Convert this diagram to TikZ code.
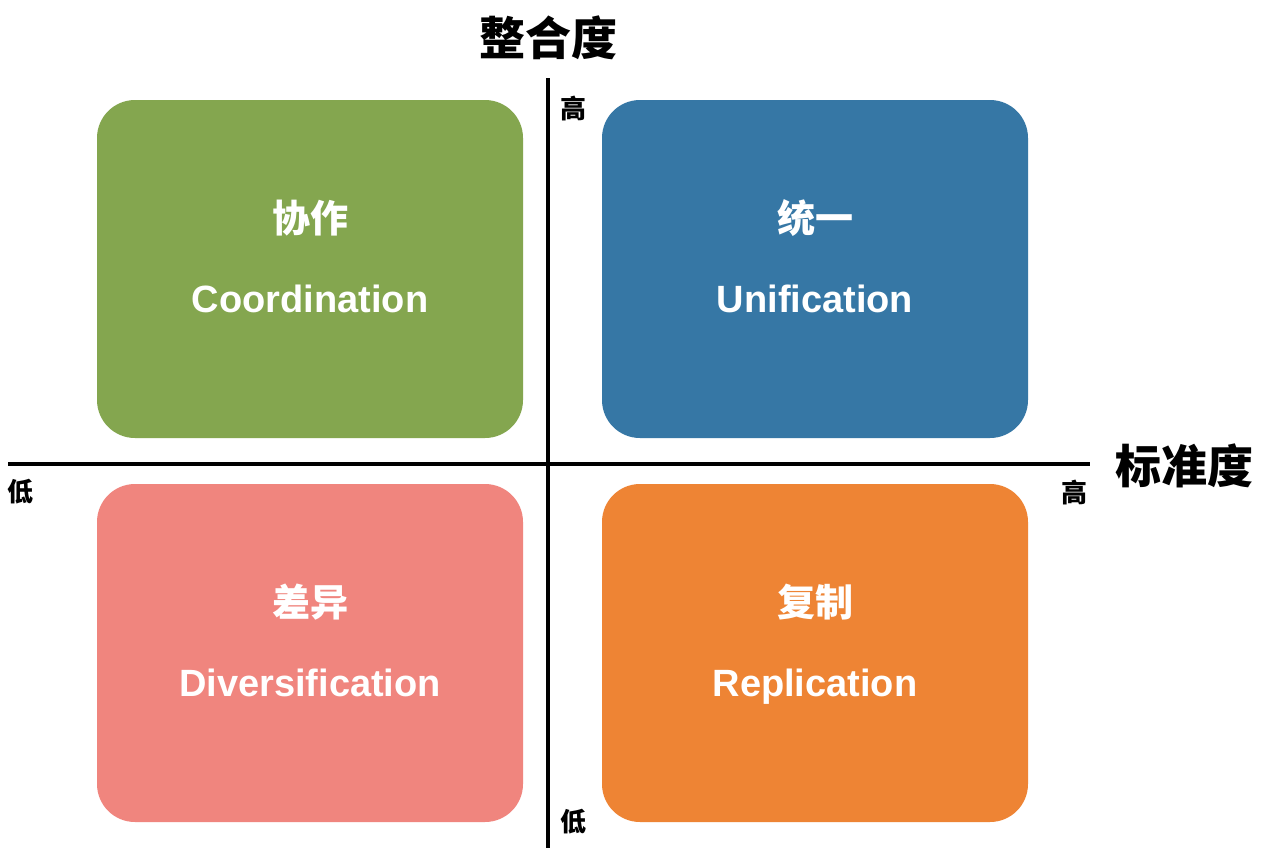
\documentclass[tikz,border=0pt]{standalone}
\usepackage{fontspec}
\setmainfont{Liberation Sans}
\newfontfamily\cjk{Noto Sans CJK SC}
\definecolor{qgreen}{HTML}{84A64F}
\definecolor{qblue}{HTML}{3677A5}
\definecolor{qpink}{HTML}{F0857E}
\definecolor{qorange}{HTML}{EE8434}
\begin{document}
\begin{tikzpicture}[x=1pt,y=-1pt,
  quad/.style={rounded corners=38pt, minimum width=426pt, minimum height=338pt, inner sep=0pt},
  zh/.style={text=white, font=\cjk\bfseries\fontsize{38}{42}\selectfont},
  en/.style={text=white, anchor=base, font=\bfseries\fontsize{38}{43}\selectfont},
  axis/.style={line width=3.8pt, black},
  tick/.style={font=\cjk\bfseries\fontsize{26}{30}\selectfont},
  title/.style={font=\cjk\bfseries\fontsize{46}{52}\selectfont}]
\useasboundingbox (0,0) rectangle (1262,852);
\fill[white] (0,0) rectangle (1262,852);

% four quadrants
\node[quad, fill=qgreen]  (coord) at (310,269) {};
\node[quad, fill=qblue]   (unif)  at (815,269) {};
\node[quad, fill=qpink]   (div)   at (310,653) {};
\node[quad, fill=qorange] (rep)   at (815,653) {};

% labels: Chinese name above, English name on a common baseline
\node[zh] (coordzh) at ([yshift=51pt]coord.center) {协作};
\node[en] (coorden) at ([yshift=-43pt]coord.center) {Coordination};
\node[zh] (unifzh)  at ([yshift=51pt]unif.center) {统一};
\node[en] (unifen)  at ([yshift=-43pt]unif.center) {Unification};
\node[zh] (divzh)   at ([yshift=51pt]div.center) {差异};
\node[en] (diven)   at ([yshift=-43pt]div.center) {Diversification};
\node[zh] (repzh)   at ([yshift=51pt]rep.center) {复制};
\node[en] (repen)   at ([yshift=-43pt]rep.center) {Replication};

% axes
\coordinate (xl) at (8,464);
\coordinate (xr) at (1090,464);
\coordinate (yt) at (548,78);
\coordinate (yb) at (548,848);
\draw[axis] (xl) -- (xr);
\draw[axis] (yt) -- (yb);

% axis titles and ends
\node[title] (ytitle) at (548,38) {整合度};
\node[title] (xtitle) at (1184,466) {标准度};
\node[tick] (yhigh) at (573,108) {高};
\node[tick] (ylow)  at (573,822) {低};
\node[tick] (xlow)  at (21,492) {低};
\node[tick] (xhigh) at (1074,492) {高};
\end{tikzpicture}
\end{document}
